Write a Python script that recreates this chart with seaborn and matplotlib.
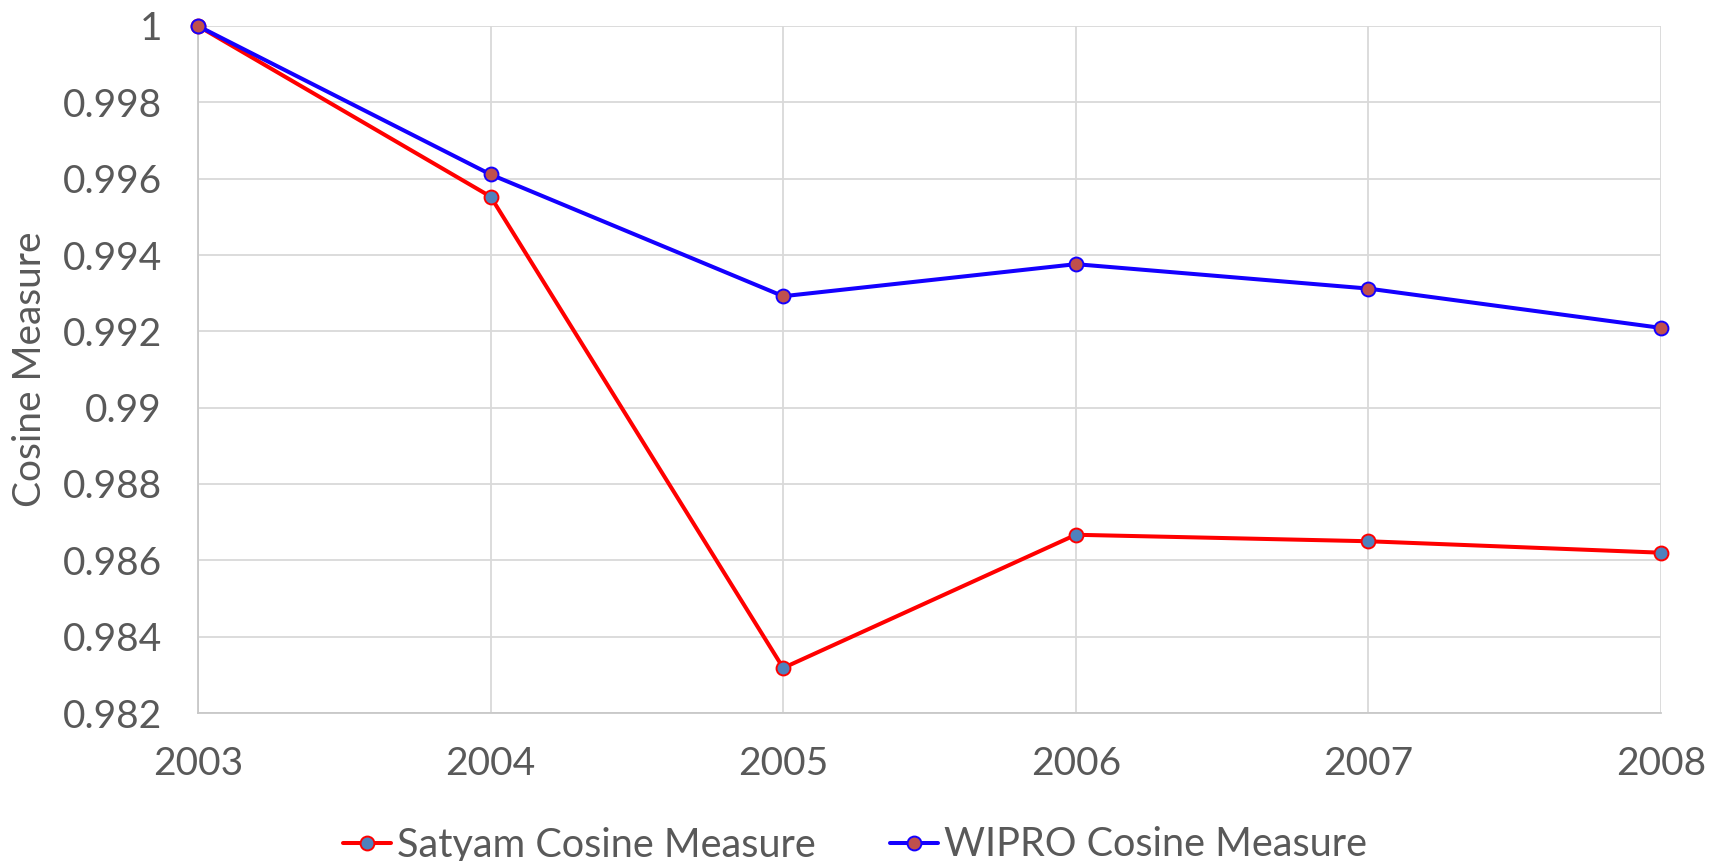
import matplotlib
matplotlib.use("Agg")
import matplotlib.pyplot as plt
import seaborn as sns
import pandas as pd
from matplotlib.ticker import FuncFormatter, MultipleLocator

years = [2003, 2004, 2005, 2006, 2007, 2008]
satyam = [1.0, 0.99553, 0.98318, 0.98667, 0.98650, 0.98620]
wipro = [1.0, 0.99611, 0.99292, 0.99376, 0.99312, 0.99209]
series_names = ["Satyam Cosine Measure", "WIPRO Cosine Measure"]

sns.set_theme(style="white")
plt.rcParams['font.family'] = ['Lato', 'DejaVu Sans']

text_color = "#595959"
grid_color = "#D9D9D9"

fig = plt.figure(figsize=(17.19, 8.61), dpi=100)
ax = fig.add_axes([198/1719, 1-713/861, (1661-198)/1719, (713-26)/861])

df_s = pd.DataFrame({"Year": years, "Value": satyam})
df_w = pd.DataFrame({"Year": years, "Value": wipro})

sns.lineplot(data=df_s, x="Year", y="Value", ax=ax, color="#FF0000", lw=2.9,
             marker="o", markersize=10, markerfacecolor="#4F81BD",
             markeredgecolor="#FF0000", markeredgewidth=1.4,
             label=series_names[0], clip_on=False, zorder=3)
sns.lineplot(data=df_w, x="Year", y="Value", ax=ax, color="#1400FF", lw=2.9,
             marker="o", markersize=10, markerfacecolor="#C0504D",
             markeredgecolor="#1400FF", markeredgewidth=1.4,
             label=series_names[1], clip_on=False, zorder=4)

ax.set_xlim(2003, 2008)
ax.set_ylim(0.982, 1.0)
ax.set_xticks(years)
ax.yaxis.set_major_locator(MultipleLocator(0.002))
ax.yaxis.set_major_formatter(FuncFormatter(lambda v, p: f"{round(v, 6):g}"))
ax.xaxis.set_major_formatter(FuncFormatter(lambda v, p: f"{int(round(v))}"))

ax.grid(True, color=grid_color, lw=1.3)
ax.set_axisbelow(True)
for s in ["top", "right"]:
    ax.spines[s].set_visible(False)
for s in ["left", "bottom"]:
    ax.spines[s].set_color("#C8C8C8")
    ax.spines[s].set_linewidth(1.3)

ax.tick_params(axis="x", length=0, pad=24, labelsize=28, labelcolor=text_color)
ax.tick_params(axis="y", length=0, pad=26, labelsize=28, labelcolor=text_color)
ax.set_xlabel("")
ax.set_ylabel("Cosine Measure", fontsize=28, color=text_color)
ax.yaxis.set_label_coords(-(198-30)/(1661-198), 0.5)
ax.yaxis.label.set_va("center")

handles, labels = ax.get_legend_handles_labels()
ax.get_legend().remove()
leg = fig.legend(handles, labels, loc="center", bbox_to_anchor=(855/1719, 1-845/861),
                 ncol=2, frameon=False, fontsize=28.5, handlelength=1.2,
                 handletextpad=0.15, columnspacing=1.9, labelcolor=text_color)

fig.savefig("out.png", dpi=100)
